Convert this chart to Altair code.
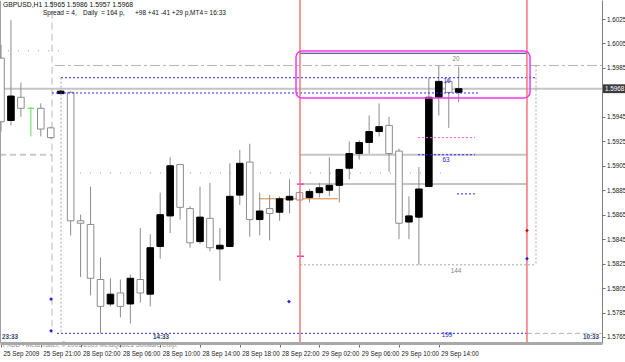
import altair as alt
import pandas as pd

# ---------------- data ----------------
symbol = "GBPUSD,H1"
bar_index = list(range(47))
opens = [1.5993, 1.5942, 1.5961, 1.5952, 1.5952, 1.5936, 1.5964, 1.5965, 1.5860, 1.5857,
         1.5812, 1.5792, 1.5801, 1.5792, 1.5812, 1.5800, 1.5839, 1.5864, 1.5906, 1.5870,
         1.5843, 1.5862, 1.5837, 1.5839, 1.5881, 1.5908, 1.5861, 1.5870, 1.5867, 1.5877,
         1.5883, 1.5879, 1.5883, 1.5885, 1.5889, 1.5903, 1.5915, 1.5924, 1.5933, 1.5938,
         1.5917, 1.5859, 1.5863, 1.5888, 1.5961, 1.5974, 1.5965]
highs = [1.6004, 1.6024, 1.5973, 1.5953, 1.5956, 1.5937, 1.5967, 1.5966, 1.5865, 1.5888,
         1.5830, 1.5813, 1.5812, 1.5816, 1.5854, 1.5849, 1.5883, 1.5912, 1.5906, 1.5872,
         1.5888, 1.5891, 1.5854, 1.5907, 1.5918, 1.5923, 1.5883, 1.5881, 1.5880, 1.5894,
         1.5884, 1.5886, 1.5891, 1.5912, 1.5902, 1.5925, 1.5926, 1.5946, 1.5956, 1.5945,
         1.5919, 1.5880, 1.5904, 1.5977, 1.5987, 1.5976, 1.5986]
lows = [1.5933, 1.5938, 1.5945, 1.5929, 1.5929, 1.5927, 1.5964, 1.5848, 1.5814, 1.5799,
        1.5768, 1.5790, 1.5781, 1.5776, 1.5793, 1.5790, 1.5829, 1.5850, 1.5861, 1.5838,
        1.5841, 1.5835, 1.5811, 1.5839, 1.5873, 1.5847, 1.5848, 1.5844, 1.5860, 1.5866,
        1.5876, 1.5875, 1.5879, 1.5880, 1.5875, 1.5894, 1.5910, 1.5915, 1.5929, 1.5900,
        1.5845, 1.5845, 1.5824, 1.5888, 1.5946, 1.5936, 1.5957]
closes = [1.5941, 1.5962, 1.5952, 1.5952, 1.5935, 1.5928, 1.5966, 1.5860, 1.5858, 1.5813,
          1.5790, 1.5800, 1.5790, 1.5813, 1.5801, 1.5838, 1.5865, 1.5905, 1.5871, 1.5842,
          1.5863, 1.5838, 1.5840, 1.5880, 1.5907, 1.5861, 1.5868, 1.5866, 1.5878, 1.5880,
          1.5877, 1.5884, 1.5887, 1.5889, 1.5902, 1.5915, 1.5924, 1.5933, 1.5937, 1.5915,
          1.5858, 1.5864, 1.5886, 1.5961, 1.5974, 1.5965, 1.5968]

time_tick_bars = [0, 4, 8, 12, 16, 20, 24, 28, 32, 36, 40, 44]
time_labels = ["25 Sep 2009", "25 Sep 21:00", "28 Sep 02:00", "28 Sep 06:00",
               "28 Sep 10:00", "28 Sep 14:00", "28 Sep 18:00", "28 Sep 22:00",
               "29 Sep 02:00", "29 Sep 06:00", "29 Sep 10:00", "29 Sep 14:00"]
price_ticks = [1.6025, 1.6005, 1.5985, 1.5965, 1.5945, 1.5925, 1.5905, 1.5885,
               1.5865, 1.5845, 1.5825, 1.5805, 1.5785, 1.5765]
current_price = 1.5968

# horizontal object lines (bar units, price)
h_style = ["gray2", "dashdot", "sparse", "dash2", "blue", "blue", "blue", "dash1", "navy",
           "dot", "gray2", "gray2", "magdot", "blue", "blue", "sparse", "orange",
           "magenta", "magenta"]
h_start = [-0.10, 5.43, 0.70, -0.10, 6.03, 5.13, 5.63, 52.86, 30.05,
           30.05, 30.05, 30.05, 41.91, 41.91, 45.83, 6.93, 25.93, 29.75, 29.75]
h_end = [60.40, 60.40, 6.13, 5.13, 53.77, 47.94, 52.86, 60.40, 52.86,
         53.77, 52.86, 52.86, 47.64, 47.64, 47.84, 44.92, 33.87, 30.45, 30.45]
h_price = [1.5968, 1.5987, 1.5999, 1.5914, 1.5977, 1.59645, 1.5768, 1.5768, 1.5997,
           1.5824, 1.5914, 1.5890, 1.5928, 1.5914, 1.5882, 1.5899, 1.5878, 1.5890, 1.5831]

# vertical object lines
v_style = ["dash1v", "dot", "dot", "gray1"]
v_bar = [5.13, 6.03, 53.77, -0.05]
v_top = [1.6040, 1.5977, 1.5987, 1.6040]
v_bottom = [1.5768, 1.5768, 1.5824, 1.5760]

red_lines = [30.05, 52.86]

# rounded rectangle
box_bar1, box_bar2 = 29.65, 53.17
box_top, box_bottom = 1.59988, 1.59604

# arrows / markers
m_bar = [5.03, 5.03, 28.94, 52.86, 52.86]
m_price = [1.5796, 1.5770, 1.5794, 1.5829, 1.5852]
m_color = ["blue", "blue", "blue", "blue", "red"]

# level labels
t_text = ["20", "10", "63", "144", "199"]
t_bar = [45.73, 44.82, 44.72, 45.73, 44.82]
t_price = [1.5992, 1.5974, 1.5910, 1.5819, 1.5767]
t_color = ["gray", "blue", "blue", "gray", "blue"]

# ---------------- styles ----------------
FONT = "Liberation Sans"
FS = 6.3
FSH = 6.8
STY = {
    "gray2": dict(color="#c4c4c4", strokeWidth=2),
    "gray1": dict(color="#a0a0a0", strokeWidth=1),
    "dashdot": dict(color="#b4b4b4", strokeWidth=1, strokeDash=[10, 3, 3, 3]),
    "sparse": dict(color="#9a9a9a", strokeWidth=1, strokeDash=[1, 9]),
    "dash2": dict(color="#c8c8c8", strokeWidth=2, strokeDash=[6, 4]),
    "blue": dict(color="#2a2aff", strokeWidth=1, strokeDash=[2, 2]),
    "dash1": dict(color="#b0b0b0", strokeWidth=1, strokeDash=[5, 3]),
    "dash1v": dict(color="#b8b8b8", strokeWidth=1, strokeDash=[7, 4]),
    "navy": dict(color="#28307a", strokeWidth=1),
    "dot": dict(color="#a8a8a8", strokeWidth=1, strokeDash=[2, 2]),
    "magdot": dict(color="#ff55ff", strokeWidth=1, strokeDash=[2, 2]),
    "orange": dict(color="#d8853a", strokeWidth=1),
    "magenta": dict(color="#ff33cc", strokeWidth=1.5),
}
COLORS = {"blue": "#2020e0", "red": "#e01010", "gray": "#808080"}

xs = alt.Scale(domain=[-0.1005, 60.402], nice=False, zero=False)
ys = alt.Scale(domain=[1.576008, 1.604054], nice=False, zero=False)

label_expr = "[" + ",".join("'%s'" % s for s in time_labels) + "][round(datum.value / 4)]"
xax = alt.Axis(values=time_tick_bars, labelExpr=label_expr, orient="bottom", title=None,
               grid=False, domain=True, domainColor="#a8a8a8", domainWidth=3,
               ticks=True, tickSize=4, tickColor="#707070", labelAlign="left",
               labelBaseline="top", labelPadding=3, labelOffset=2, labelFont=FONT,
               labelFontSize=FS, labelColor="#202020", labelFlush=False,
               labelOverlap=False, zindex=1)
# the label hidden beneath the current-price box is left blank
yax = alt.Axis(values=price_ticks, format=".4f", orient="right", title=None, grid=False,
               labelExpr="abs(datum.value - %s) < 0.0004 ? '' : datum.label" % current_price,
               domainColor="#808080", domainWidth=1, tickSize=3, tickColor="#707070",
               labelFont=FONT, labelFontSize=FS, labelColor="#202020", labelPadding=1.5,
               labelAlign="left", labelBaseline="middle", labelOverlap=False,
               labelFlush=False)


def X(f):
    return alt.X(f, type="quantitative", scale=xs, axis=xax)


def Y(f):
    return alt.Y(f, type="quantitative", scale=ys, axis=yax)


# ---------------- frames ----------------
candles = pd.DataFrame({"bar": bar_index, "open": opens, "high": highs,
                        "low": lows, "close": closes})
candles["kind"] = ["up" if c > o else ("down" if c < o else "doji")
                   for o, c in zip(opens, closes)]
hdf = pd.DataFrame({"style": h_style, "x1": h_start, "x2": h_end, "price": h_price})
vdf = pd.DataFrame({"style": v_style, "x": v_bar, "p1": v_top, "p2": v_bottom})
rdf = pd.DataFrame({"x": red_lines})
bdf = pd.DataFrame({"x1": [box_bar1], "x2": [box_bar2], "p1": [box_top], "p2": [box_bottom]})
mdf = pd.DataFrame({"x": m_bar, "p": m_price, "c": m_color})
tdf = pd.DataFrame({"t": t_text, "x": t_bar, "p": t_price, "c": t_color})
cdf = pd.DataFrame({"p": [current_price], "t": ["%.4f" % current_price]})

layers = []

# background object lines
for s in ["gray2", "dashdot", "sparse", "dash2", "dot", "dash1", "orange"]:
    sub = hdf[hdf["style"] == s]
    if len(sub):
        layers.append(alt.Chart(sub).mark_rule(**STY[s]).encode(
            x=X("x1"), x2="x2", y=Y("price")))
for s in ["dash1v", "dot", "gray1"]:
    sub = vdf[vdf["style"] == s]
    layers.append(alt.Chart(sub).mark_rule(**STY[s]).encode(
        x=X("x"), y=Y("p1"), y2="p2"))

# candles
base = alt.Chart(candles).transform_calculate(
    xl="datum.bar - 0.33", xr="datum.bar + 0.33")
layers.append(base.mark_rule(strokeWidth=1).encode(
    x=X("bar"), y=Y("low"), y2="high",
    color=alt.condition("datum.kind == 'doji'", alt.value("#55e055"), alt.value("#8c8c8c"))))
layers.append(base.transform_filter("datum.kind == 'down'").mark_rect(
    fill="#ffffff", stroke="#8c8c8c", strokeWidth=1).encode(
    x=X("xl"), x2="xr", y=Y("open"), y2="close"))
layers.append(base.transform_filter("datum.kind == 'up'").mark_rect(
    fill="#000000", stroke="#000000", strokeWidth=1).encode(
    x=X("xl"), x2="xr", y=Y("open"), y2="close"))
layers.append(base.transform_filter("datum.kind == 'doji'").mark_rule(
    color="#55e055", strokeWidth=1).encode(x=X("xl"), x2="xr", y=Y("open")))

# foreground object lines
for s in ["blue", "navy", "magdot", "magenta"]:
    sub = hdf[hdf["style"] == s]
    layers.append(alt.Chart(sub).mark_rule(**STY[s]).encode(
        x=X("x1"), x2="x2", y=Y("price")))
layers.append(alt.Chart(rdf).mark_rule(color="#f07878", strokeWidth=1.5).encode(x=X("x")))
layers.append(alt.Chart(bdf).mark_rect(fillOpacity=0, stroke="#ff33ee", strokeWidth=1.5,
                                       cornerRadius=6).encode(
    x=X("x1"), x2="x2", y=Y("p1"), y2="p2"))
layers.append(alt.Chart(mdf).mark_point(shape="diamond", filled=True, size=14, opacity=1).encode(
    x=X("x"), y=Y("p"),
    color=alt.Color("c:N", scale=alt.Scale(domain=list(COLORS), range=list(COLORS.values())),
                    legend=None)))
layers.append(alt.Chart(tdf).mark_text(font=FONT, fontSize=FS, align="center",
                                       baseline="middle").encode(
    x=X("x"), y=Y("p"), text="t:N",
    color=alt.Color("c:N", scale=alt.Scale(domain=list(COLORS), range=list(COLORS.values())),
                    legend=None)))

# current price box on the price scale
layers.append(alt.Chart(cdf).transform_calculate(
    ph="datum.p + 0.00036", pl="datum.p - 0.00036").mark_rect(
    fill="#3a3a3a", clip=False).encode(
    x=alt.value(603), x2=alt.value(625), y=Y("ph"), y2="pl"))
layers.append(alt.Chart(cdf).mark_text(font=FONT, fontSize=FS, color="#ffffff",
                                       align="left", baseline="middle").encode(
    x=alt.value(605), y=Y("p"), text="t:N"))

# header texts
header = "%s  %.4f %.4f %.4f %.4f" % (symbol, opens[-1], highs[-1], lows[-1], closes[-1])
info_texts = [header, "Spread = 4,", "Daily", "= 164 p,", "+98 +41 -41 +29 p,", "MT4", "= 16:33"]
info_x = [3, 43, 83, 101, 135, 190, 204]
info_y = [5, 13, 13, 13, 13, 13, 13]
info_fs = [FSH, FS + 0.2, FS + 0.2, FS + 0.2, FS + 0.2, FS + 0.2, FS + 0.2]
for t, xx, yy, ff in zip(info_texts, info_x, info_y, info_fs):
    layers.append(alt.Chart(cdf).mark_text(text=t, font=FONT, fontSize=ff, color="#101010",
                                           align="left", baseline="middle").encode(
        x=alt.value(xx), y=alt.value(yy)))

clock_texts = ["23:33", "14:33", "10:33"]
clock_x = [2, 153, 583]
for t, xx in zip(clock_texts, clock_x):
    layers.append(alt.Chart(cdf).mark_text(text=t, font=FONT, fontSize=FS, fontWeight="bold",
                                           color="#34466e", align="left",
                                           baseline="middle").encode(
        x=alt.value(xx), y=alt.value(337)))

layers.append(alt.Chart(cdf).mark_text(
    text="FXDD - MetaTrader, \u00a9 2001-2009 MetaQuotes Software Corp.", font=FONT,
    fontSize=FS, color="#8a8a8a", align="left", baseline="middle").encode(
    x=alt.value(3), y=alt.value(345)))

chart = alt.layer(*layers).properties(
    width=602, height=343,
    autosize=alt.AutoSizeParams(type="none"),
    padding={"left": 0, "top": 0, "right": 23, "bottom": 19},
    background="#ffffff",
).configure_view(stroke=None)

chart.save("out.html", embed_options={"renderer": "svg", "actions": False})
